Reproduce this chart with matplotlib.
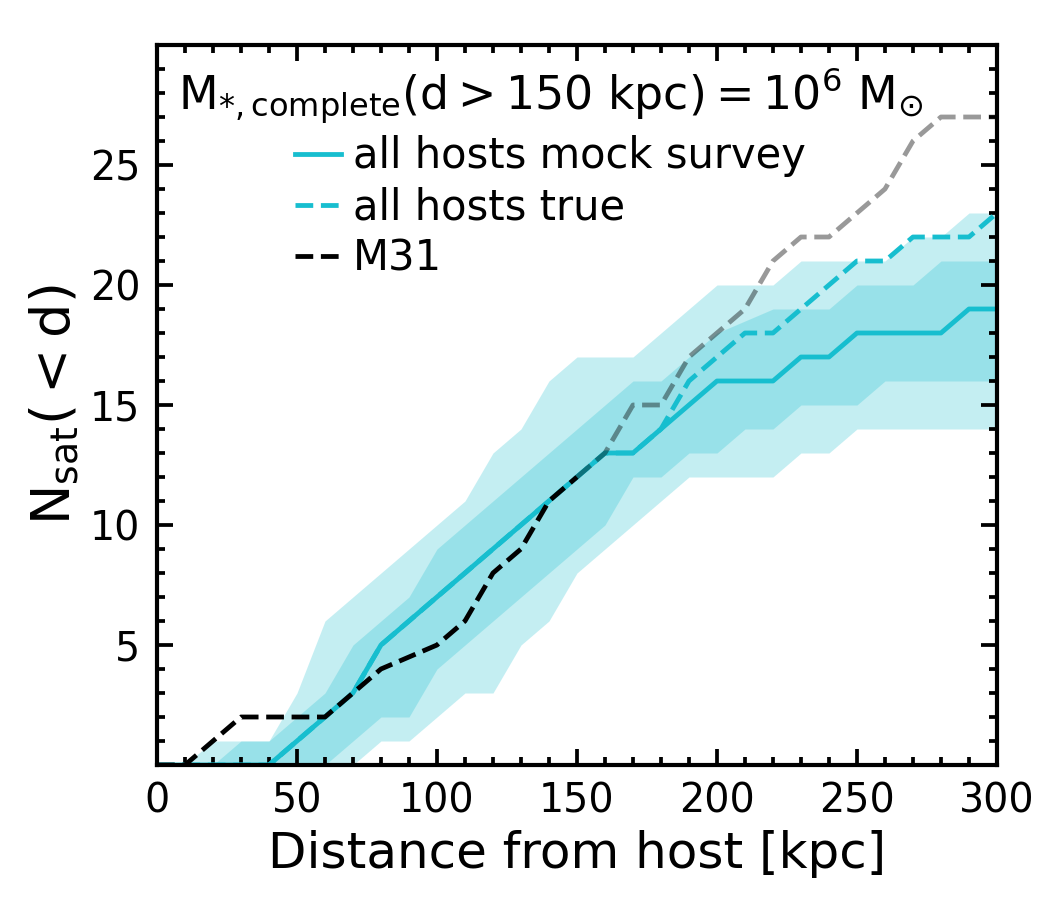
import matplotlib.pyplot as plt
import numpy as np
from matplotlib.ticker import MultipleLocator

plt.rcParams['mathtext.default'] = 'regular'

# distance grid [kpc]
dist = [0, 10, 20, 30, 40, 50, 60, 70, 80, 90, 100, 110, 120, 130, 140, 150,
        160, 170, 180, 190, 200, 210, 220, 230, 240, 250, 260, 270, 280, 290, 300]

# median cumulative counts
mock = [0, 0, 0, 0, 0, 1, 2, 3, 5, 6, 7, 8, 9, 10, 11, 12,
        13, 13, 14, 15, 16, 16, 16, 17, 17, 18, 18, 18, 18, 19, 19]
true = [0, 0, 0, 0, 0, 1, 2, 3, 5, 6, 7, 8, 9, 10, 11, 12,
        13, 13, 14, 16, 17, 18, 18, 19, 20, 21, 21, 22, 22, 22, 23]
m31 = [0, 0, 1, 2, 2, 2, 2, 3, 4, 4.5, 5, 6, 8, 9, 11, 12,
       13, 15, 15, 17, 18, 19, 21, 22, 22, 23, 24, 26, 27, 27, 27]

# scatter of the mock survey
outer_hi = [0, 0, 1, 1, 1, 3, 6, 7, 8, 9, 10, 11, 13, 14, 16, 17,
            17, 17, 18, 19, 20, 20, 20, 21, 21, 21, 21, 22, 22, 23, 23]
inner_hi = [0, 0, 0, 1, 1, 2, 3, 5, 6, 7, 9, 10, 11, 12, 13, 14,
            15, 16, 16, 17, 18, 18.5, 19, 19, 19, 20, 20, 20, 21, 21, 21]
inner_lo = [0, 0, 0, 0, 0, 0, 0, 1, 2, 2, 4, 5, 6, 7, 8, 9,
            10, 12, 12, 13, 13, 14, 14, 15, 15, 15, 16, 16, 16, 16, 16]
outer_lo = [0, 0, 0, 0, 0, 0, 0, 0, 1, 1, 2, 3, 3, 5, 6, 8,
            9, 10, 11, 12, 12, 12, 12, 13, 13, 14, 14, 14, 14, 14, 14]

d_complete = 150
cyan = '#17becf'

fig, ax = plt.subplots(figsize=(7, 6), dpi=150)
fig.subplots_adjust(left=0.1495, right=0.9495, bottom=0.15, top=0.95)

ax.fill_between(dist, outer_lo, outer_hi, color=cyan, alpha=0.25, lw=0)
ax.fill_between(dist, inner_lo, inner_hi, color=cyan, alpha=0.25, lw=0)

ax.plot(dist, mock, color=cyan, lw=2.3, label='all hosts mock survey')
ax.plot(dist, true, color=cyan, lw=2.3, ls='--', label='all hosts true')

# M31 is only complete inside 150 kpc, fade it beyond that
k = dist.index(d_complete)
ax.plot(dist[:k + 1], m31[:k + 1], color='k', lw=2.3, ls='--', label='M31')
ax.plot(dist[k:], m31[k:], color='k', lw=2.3, ls='--', alpha=0.4)

ax.set_xlim(0, 300)
ax.set_ylim(0, 30)
ax.set_xticks([0, 50, 100, 150, 200, 250, 300])
ax.set_yticks([5, 10, 15, 20, 25])
ax.xaxis.set_minor_locator(MultipleLocator(10))
ax.yaxis.set_minor_locator(MultipleLocator(1))
ax.tick_params(which='both', direction='in', top=True, right=True, width=1.8)
ax.tick_params(which='major', length=7.5, labelsize=19, pad=8)
ax.tick_params(which='minor', length=4)
for sp in ax.spines.values():
    sp.set_linewidth(2)

ax.set_xlabel('Distance from host [kpc]', fontsize=24)
ax.set_ylabel('N$_{sat}$($<$d)', fontsize=26)

ax.legend(loc='upper left', frameon=False, fontsize=20,
          title='M$_{*,complete}$(d$>$150 kpc)$=10^6$ M$_{\\odot}$',
          title_fontsize=22, handlelength=1.1, handletextpad=0.3,
          labelspacing=0.22, borderaxespad=0.1, borderpad=0.4)

fig.savefig('out.png', dpi=150)
